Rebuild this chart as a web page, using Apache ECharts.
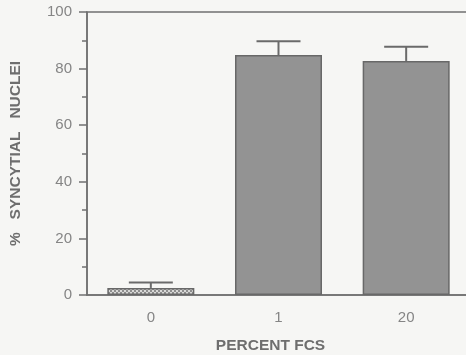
<!DOCTYPE html>
<html>
<head>
<meta charset="utf-8">
<script src="https://cdn.jsdelivr.net/npm/echarts@6/dist/echarts.min.js"></script>
<style>
  html, body { margin: 0; padding: 0; background: #f6f6f4; }
  #chart { width: 466px; height: 355px; }
</style>
</head>
<body>
<div id="chart"></div>
<script>
// data
const categories = ["0", "1", "20"];
const meanValues = [2.5, 84.8, 82.7];
const upperValues = [4.4, 89.7, 87.7];
const yTicks = [0, 20, 40, 60, 80, 100];

// small checkered pattern for the 0% bar
function makeHatch() {
  const c = document.createElement("canvas");
  c.width = 4;
  c.height = 4;
  const ctx = c.getContext("2d");
  ctx.fillStyle = "#d9d9d7";
  ctx.fillRect(0, 0, 4, 4);
  ctx.fillStyle = "#8e8e8e";
  ctx.fillRect(0, 0, 2, 2);
  ctx.fillRect(2, 2, 2, 2);
  return c;
}

const barData = meanValues.map((v, i) => {
  if (i === 0) {
    return { value: v, itemStyle: { color: { image: makeHatch(), repeat: "repeat" } } };
  }
  return v;
});
const errData = meanValues.map((v, i) => [i, v, upperValues[i]]);

const axisGray = "#707070";
const textGray = "#858585";

const chart = echarts.init(document.getElementById("chart"));
chart.setOption({
  backgroundColor: "#f6f6f4",
  animation: false,
  grid: {
    left: 87,
    top: 12,
    bottom: 60,
    width: 383,
    outerBoundsMode: "none",
    show: true,
    borderColor: axisGray,
    borderWidth: 1.5,
  },
  xAxis: {
    type: "category",
    data: categories,
    name: "PERCENT FCS",
    nameLocation: "middle",
    nameGap: 43,
    nameTextStyle: {
      color: "#6e6e6e",
      fontSize: 15.5,
      fontWeight: "bold",
      fontFamily: "Liberation Sans",
      padding: [0, 16, 0, 0],
    },
    axisLine: { lineStyle: { color: axisGray, width: 1.5 } },
    axisTick: { length: 4, lineStyle: { color: axisGray, width: 1.5 } },
    axisLabel: {
      color: textGray,
      fontSize: 15,
      fontFamily: "Liberation Sans",
      margin: 15,
    },
  },
  yAxis: {
    type: "value",
    min: 0,
    max: 100,
    interval: 20,
    name: "%   SYNCYTIAL   NUCLEI",
    nameLocation: "middle",
    nameGap: 63,
    nameTextStyle: {
      color: "#6e6e6e",
      fontSize: 15.5,
      fontWeight: "bold",
      fontFamily: "Liberation Sans",
    },
    axisLine: { show: true, lineStyle: { color: axisGray, width: 1.5 } },
    axisTick: { show: true, length: 8, lineStyle: { color: axisGray, width: 1.5 } },
    minorTick: { show: true, splitNumber: 2, length: 5, lineStyle: { color: axisGray, width: 1.5 } },
    splitLine: { show: false },
    axisLabel: {
      color: textGray,
      fontSize: 15,
      fontFamily: "Liberation Sans",
      margin: 15,
      formatter: (v) => (yTicks.includes(v) ? String(v) : ""),
    },
  },
  series: [
    {
      type: "bar",
      data: barData,
      barWidth: 87,
      itemStyle: {
        color: "#939393",
        borderColor: "#686868",
        borderWidth: 1.5,
      },
      z: 2,
    },
    {
      type: "custom",
      data: errData,
      z: 3,
      renderItem: function (params, api) {
        const base = api.coord([api.value(0), api.value(1)]);
        const top = api.coord([api.value(0), api.value(2)]);
        const half = 22;
        const style = { stroke: "#6a6a6a", lineWidth: 2 };
        return {
          type: "group",
          children: [
            { type: "line", shape: { x1: base[0], y1: base[1], x2: top[0], y2: top[1] }, style: style },
            { type: "line", shape: { x1: top[0] - half, y1: top[1], x2: top[0] + half, y2: top[1] }, style: style },
          ],
        };
      },
    },
  ],
});
</script>
</body>
</html>
